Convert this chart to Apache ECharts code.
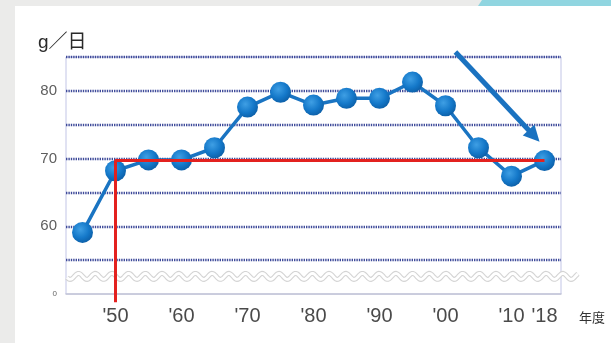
<!DOCTYPE html>
<html>
<head>
<meta charset="utf-8">
<script src="https://cdn.jsdelivr.net/npm/echarts@6/dist/echarts.min.js"></script>
<style>
  html, body { margin: 0; padding: 0; }
  body { width: 611px; height: 343px; background: #ebebea; position: relative; overflow: hidden; }
  #panel { position: absolute; left: 15px; top: 6px; right: 0; bottom: 0; background: #ffffff; }
  #tab { position: absolute; left: 478px; top: 0; width: 133px; height: 6px; background: #90d5e0;
         clip-path: polygon(4px 0, 100% 0, 100% 100%, 0 100%); }
  #chart { position: absolute; left: 0; top: 0; width: 611px; height: 343px; }
</style>
</head>
<body>
<div id="panel"></div>
<div id="tab"></div>
<div id="chart"></div>
<script>
// Survey years (5-year steps, last survey in 2018)
const years = ['1945', '1950', '1955', '1960', '1965', '1970', '1975', '1980',
               '1985', '1990', '1995', '2000', '2005', '2010', '2018'];
// Daily intake, g per day
const intake = [59.1, 68.2, 69.8, 69.8, 71.6, 77.6, 79.8, 77.9,
                78.9, 78.9, 81.3, 77.8, 71.6, 67.4, 69.7];
// Labels shown on the year axis
const yearLabels = {
  '1950': "'50", '1960': "'60", '1970': "'70", '1980': "'80",
  '1990': "'90", '2000': "'00", '2010': "'10", '2018': "'18"
};
// Labels shown on the value axis
const valueLabels = { 80: '80', 70: '70', 60: '60' };
const breakLabel = '0';
// Reference line: from 1950 across to the 2018 level
const refStartYear = '1950';
const refEndYear = '2018';
const refLevel = intake[years.indexOf(refEndYear)];
// Trend arrow, in (category index, value) terms
const arrowFrom = [11.3, 85.75];
const arrowTo = [13.85, 72.5];

const Y_MIN = 50, Y_MAX = 85;
const RED_DROP = 48.8;      // red guide runs a little below the axis
const WAVE_LEVEL = 52.6;    // axis-break wave sits between 50 and 55

const chart = echarts.init(document.getElementById('chart'), null, { renderer: 'canvas' });
const font = '"Liberation Sans", "Noto Sans CJK JP", sans-serif';

chart.setOption({
  animation: false,
  backgroundColor: 'transparent',
  grid: {
    left: 66, right: 50, top: 57, bottom: 49,
    show: true, borderColor: '#c2c5e6', borderWidth: 1, backgroundColor: 'transparent'
  },
  xAxis: {
    type: 'category',
    data: years,
    boundaryGap: true,
    axisLine: { lineStyle: { color: '#c4c6d8', width: 1.5 } },
    axisTick: { show: false },
    splitLine: { show: false },
    axisLabel: {
      interval: 0,
      margin: 12,
      fontSize: 20,
      color: '#4a4a4a',
      fontFamily: font,
      formatter: v => yearLabels[v] || ''
    },
    name: '年度',
    nameLocation: 'end',
    nameGap: 18,
    nameTextStyle: {
      fontSize: 13, color: '#333', fontFamily: font,
      verticalAlign: 'top', padding: [18, 0, 0, 0]
    }
  },
  yAxis: {
    type: 'value',
    min: Y_MIN, max: Y_MAX, interval: 5,
    axisLine: { show: false },
    axisTick: { show: false },
    splitLine: {
      showMinLine: false,
      lineStyle: { color: '#3f4b9a', width: 2.4, type: [1.4, 1] }
    },
    axisLabel: {
      margin: 9,
      fontSize: 15,
      color: '#5e5e5e',
      fontFamily: font,
      formatter: v => (v === Y_MIN ? '{z|' + breakLabel + '}' : (valueLabels[v] || '')),
      rich: { z: { fontSize: 8, color: '#666', fontFamily: font } }
    }
  },
  series: [
    {
      type: 'line',
      data: intake,
      z: 3,
      symbol: 'circle',
      symbolSize: 21,
      lineStyle: { color: '#1a74c2', width: 3.5 },
      itemStyle: {
        color: {
          type: 'radial', x: 0.4, y: 0.36, r: 0.68,
          colorStops: [
            { offset: 0, color: '#3f9fe4' },
            { offset: 0.6, color: '#1478c9' },
            { offset: 1, color: '#0c5ea6' }
          ]
        },
        borderWidth: 0
      }
    },
    {
      type: 'line',
      data: [[refStartYear, RED_DROP], [refStartYear, refLevel], [refEndYear, refLevel]],
      z: 4,
      clip: false,
      symbol: 'none',
      lineStyle: { color: '#e3211f', width: 3 },
      silent: true
    }
  ]
});

function pt(idx, val) {
  const i0 = Math.floor(idx), i1 = Math.min(i0 + 1, years.length - 1);
  const a = chart.convertToPixel({ gridIndex: 0 }, [i0, val]);
  const b = chart.convertToPixel({ gridIndex: 0 }, [i1, val]);
  const t = idx - i0;
  return [a[0] + (b[0] - a[0]) * t, a[1]];
}

// Axis-break wave across the lower band
const plotLeft = 66, plotRight = 611 - 50;
const waveY = chart.convertToPixel({ gridIndex: 0 }, [0, WAVE_LEVEL])[1];
const wavePts = [];
for (let x = plotLeft + 1; x <= plotRight + 17; x += 1) {
  wavePts.push([x, waveY + 3 * Math.sin(2 * Math.PI * (x - plotLeft) / 16.7)]);
}

// Trend arrow
const p0 = pt(arrowFrom[0], arrowFrom[1]);
const p1 = pt(arrowTo[0], arrowTo[1]);
const ang = Math.atan2(p1[1] - p0[1], p1[0] - p0[0]);
const headLen = 16, headHalf = 8;
const base = [p1[0] - headLen * Math.cos(ang), p1[1] - headLen * Math.sin(ang)];
const nx = -Math.sin(ang), ny = Math.cos(ang);

chart.setOption({
  graphic: [
    {
      type: 'text', left: 38, top: 33, z: 10,
      style: { text: 'g／日', fontSize: 19, fill: '#2a2a2a', fontFamily: font }
    },
    {
      type: 'polyline', z: 1, silent: true,
      shape: { points: wavePts },
      style: { stroke: '#d4d4d4', lineWidth: 5, fill: null }
    },
    {
      type: 'polyline', z: 1, silent: true,
      shape: { points: wavePts },
      style: { stroke: '#ffffff', lineWidth: 2.8, fill: null }
    },
    {
      type: 'line', z: 10, silent: true,
      shape: { x1: p0[0], y1: p0[1], x2: base[0] + 2 * Math.cos(ang), y2: base[1] + 2 * Math.sin(ang) },
      style: { stroke: '#1a72c0', lineWidth: 5 }
    },
    {
      type: 'polygon', z: 10, silent: true,
      shape: { points: [
        [p1[0], p1[1]],
        [base[0] + nx * headHalf, base[1] + ny * headHalf],
        [base[0] - nx * headHalf, base[1] - ny * headHalf]
      ] },
      style: { fill: '#1a72c0' }
    }
  ]
});
</script>
</body>
</html>
